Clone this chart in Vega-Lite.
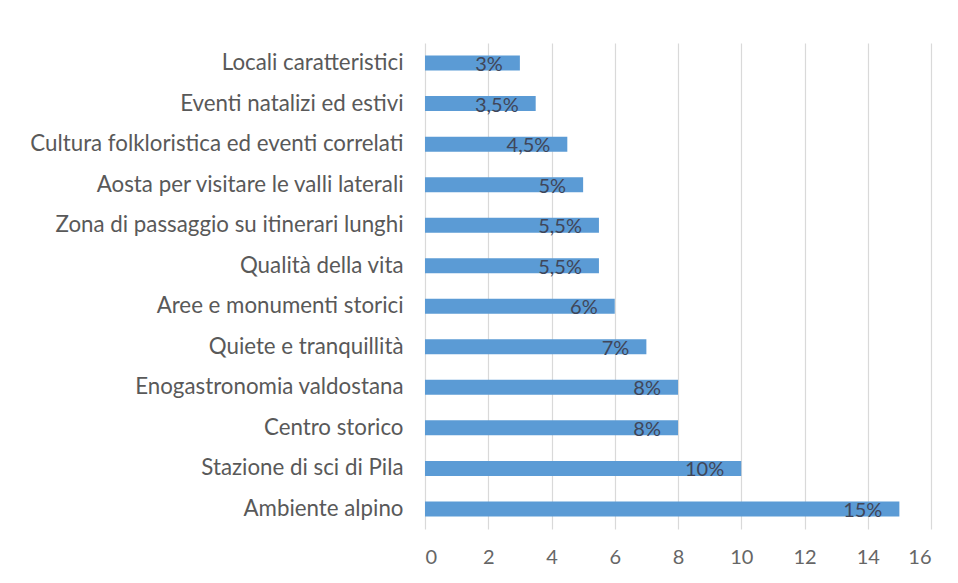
{
  "$schema": "https://vega.github.io/schema/vega-lite/v6.json",
  "autosize": "none",
  "width": 506,
  "height": 486,
  "padding": {"left": 425, "top": 43, "right": 27, "bottom": 54},
  "background": "white",
  "config": {"view": {"stroke": null}, "font": "Lato"},
  "data": {
    "values": [
      {"cat": "Locali caratteristici", "val": 3, "label": "3%", "ord": 1},
      {"cat": "Eventi natalizi ed estivi", "val": 3.5, "label": "3,5%", "ord": 2},
      {"cat": "Cultura folkloristica ed eventi correlati", "val": 4.5, "label": "4,5%", "ord": 3},
      {"cat": "Aosta per visitare le valli laterali", "val": 5, "label": "5%", "ord": 4},
      {"cat": "Zona di passaggio su itinerari lunghi", "val": 5.5, "label": "5,5%", "ord": 5},
      {"cat": "Qualità della vita", "val": 5.5, "label": "5,5%", "ord": 6},
      {"cat": "Aree e monumenti storici", "val": 6, "label": "6%", "ord": 7},
      {"cat": "Quiete e tranquillità", "val": 7, "label": "7%", "ord": 8},
      {"cat": "Enogastronomia valdostana", "val": 8, "label": "8%", "ord": 9},
      {"cat": "Centro storico", "val": 8, "label": "8%", "ord": 10},
      {"cat": "Stazione di sci di Pila", "val": 10, "label": "10%", "ord": 11},
      {"cat": "Ambiente alpino", "val": 15, "label": "15%", "ord": 12}
    ]
  },
  "encoding": {
    "y": {
      "field": "cat", "type": "nominal",
      "sort": {"field": "ord", "order": "ascending"},
      "scale": {"paddingInner": 0.63, "paddingOuter": 0.31},
      "axis": {"title": null, "domain": false, "ticks": false, "labelPadding": 22, "labelFontSize": 22.3, "labelColor": "#595959", "labelFont": "Lato", "labelLimit": 500}
    },
    "x": {
      "field": "val", "type": "quantitative",
      "scale": {"domain": [0, 16], "nice": false},
      "axis": {"title": null, "values": [0,2,4,6,8,10,12,14,16], "domain": false, "ticks": false, "grid": true, "gridColor": "#d9d9d9", "gridWidth": 1.2, "labelPadding": 18, "labelFontSize": 20, "labelColor": "#666666", "labelFont": "Lato"}
    }
  },
  "layer": [
    {"mark": {"type": "bar", "color": "#5B9BD5"}},
    {"mark": {"type": "text", "align": "right", "baseline": "middle", "dx": -17, "dy": 2, "fontSize": 20, "color": "#404659", "font": "Lato"},
     "encoding": {"text": {"field": "label"}}}
  ]
}
